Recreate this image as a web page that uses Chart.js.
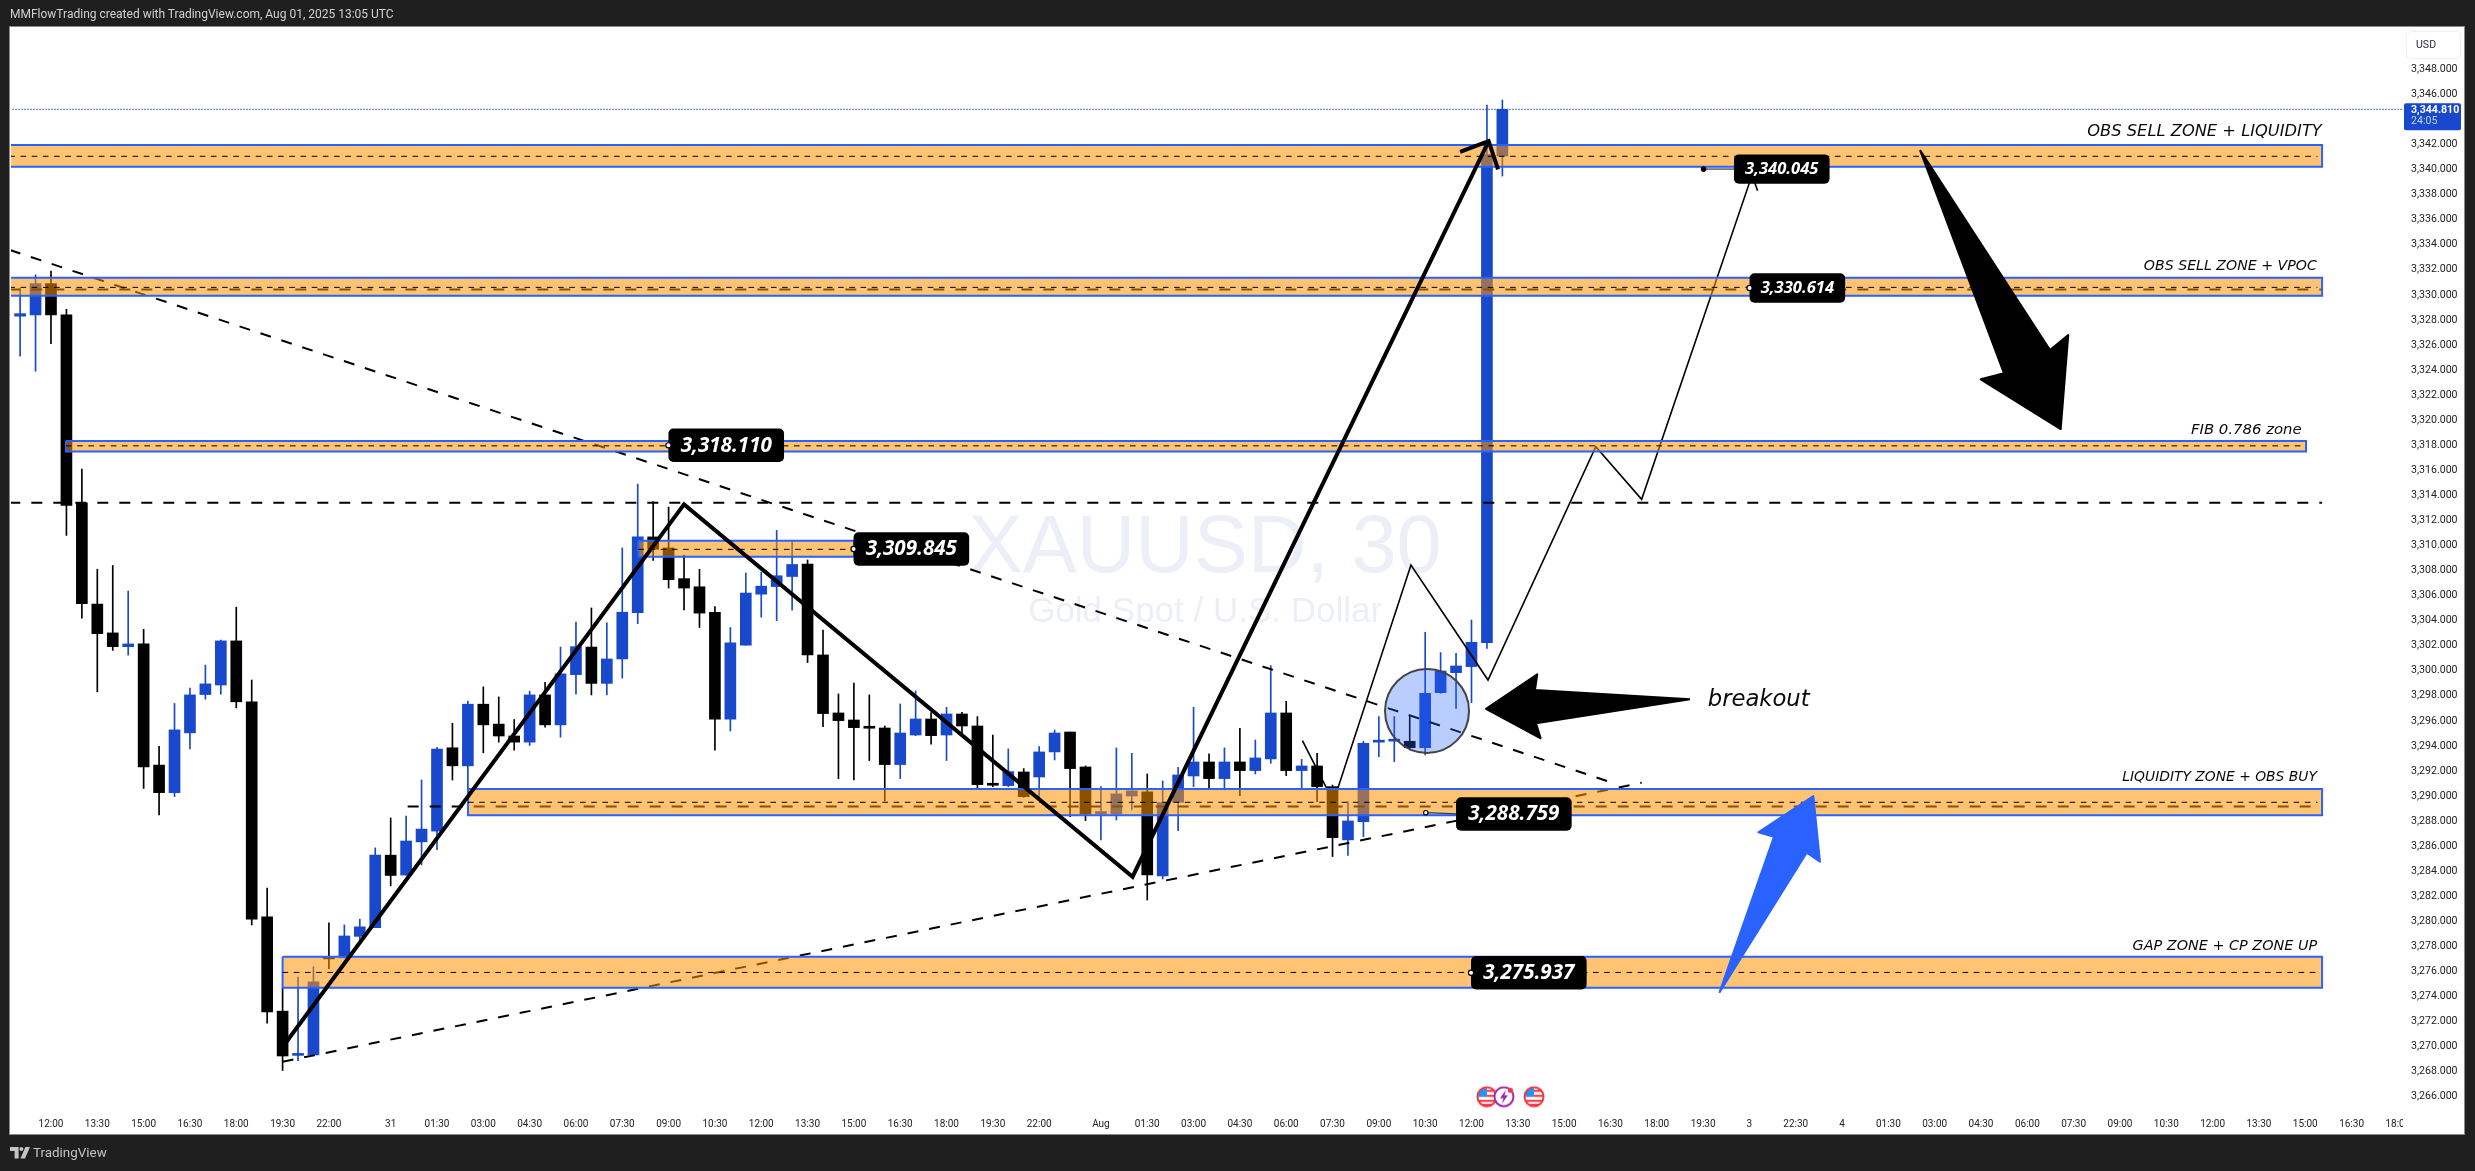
<!DOCTYPE html>
<html><head><meta charset="utf-8">
<style>
html,body{margin:0;padding:0;width:2475px;height:1171px;overflow:hidden;background:#1f1f1f}
#panel{position:absolute;left:10px;top:27px;width:2454px;height:1107px;background:#fff;outline:1px solid #8a8a8a}
#c{position:absolute;left:0;top:0}
#head{position:absolute;left:10px;top:7px;font:12px Roboto,sans-serif;color:#d2d2d2;white-space:nowrap;line-height:15px}
#foot{position:absolute;left:33px;top:1145px;font:13.4px Roboto,sans-serif;color:#c4c4c4;line-height:16px}
#logo{position:absolute;left:10px;top:1147px}
</style>
<script src="https://cdn.jsdelivr.net/npm/chart.js@4/dist/chart.umd.js"></script>
</head><body>
<div id="panel"></div>
<canvas id="c" width="2475" height="1171"></canvas>
<div id="head">MMFlowTrading created with TradingView.com, Aug 01, 2025 13:05 UTC</div>
<svg id="logo" width="20" height="12" viewBox="0 0 20 12"><path fill="#c4c4c4" d="M0 0h8.6v11.4H4.6V4H0z"/><circle cx="11.4" cy="2" r="2" fill="#c4c4c4"/><path fill="#c4c4c4" d="M15.4 0H20l-5 11.4h-4.6z"/></svg>
<div id="foot">TradingView</div>
<script>
const opens=[3328.3,3328.4,3330.9,3328.4,3313.4,3305.32,3303.02,3301.92,3302.14,3292.47,3290.27,3295.04,3298.1,3298.86,3302.38,3297.52,3280.36,3272.83,3269.3,3269.34,3277.05,3277.08,3278.8,3279.5,3285.28,3283.69,3286.34,3287.2,3293.85,3292.41,3297.33,3295.74,3294.79,3294.3,3298.07,3295.68,3299.69,3301.89,3298.99,3300.94,3304.64,3310.68,3309.8,3307.35,3306.7,3304.67,3296.14,3302.04,3306.11,3306.72,3307.52,3308.52,3301.26,3296.63,3296.07,3295.5,3295.43,3292.51,3294.87,3296.15,3294.87,3296.55,3295.59,3290.95,3290.83,3291.92,3291.52,3293.52,3295.11,3292.32,3288.57,3288.57,3290.0,3290.33,3283.62,3289.5,3291.6,3292.72,3291.39,3292.72,3292.03,3292.96,3296.63,3292.03,3292.4,3290.75,3286.5,3287.96,3294.3,3294.38,3294.37,3293.86,3298.25,3299.85,3300.33,3302.24,3341.08];
const highs=[3330.5,3331.6,3331.9,3328.85,3316.1,3308.1,3308.4,3306.36,3303.3,3293.97,3297.39,3298.62,3300.45,3302.44,3305.07,3299.26,3282.65,3274.7,3275.55,3276.38,3279.87,3279.71,3280.17,3285.86,3288.25,3288.4,3291.28,3293.88,3295.8,3297.58,3298.71,3297.91,3296.11,3298.37,3299.08,3301.89,3303.88,3305.01,3303.82,3309.8,3314.9,3313.5,3313.06,3309.24,3308.1,3305.13,3303.45,3307.8,3307.87,3311.2,3310.3,3308.84,3303.25,3298.15,3299.02,3298.07,3295.59,3297.35,3298.39,3296.66,3297.08,3296.68,3296.34,3294.87,3293.76,3292.19,3293.94,3295.27,3295.11,3292.4,3290.75,3293.84,3293.41,3291.76,3291.2,3292.29,3297.08,3293.36,3293.84,3295.41,3294.47,3300.41,3297.56,3292.93,3293.41,3290.88,3289.55,3294.37,3296.34,3296.34,3296.39,3303.07,3301.45,3301.39,3304.05,3345.15,3345.55];
const lows=[3325.1,3323.9,3326.1,3310.8,3304.2,3298.31,3301.62,3301.25,3290.6,3288.5,3289.96,3293.75,3297.73,3298.13,3297.03,3279.71,3271.88,3268.09,3268.88,3269.25,3276.23,3277.08,3278.5,3279.5,3282.83,3283.69,3284.5,3285.71,3291.28,3289.69,3293.45,3294.3,3293.66,3294.03,3295.5,3294.7,3298.13,3298.07,3298.07,3299.41,3303.76,3308.8,3306.6,3304.86,3303.45,3293.66,3295.19,3302.04,3304.28,3304.0,3304.83,3300.65,3295.54,3291.39,3291.28,3292.83,3289.61,3291.39,3294.82,3294.13,3292.83,3294.74,3290.62,3290.75,3290.75,3289.9,3289.95,3292.88,3288.36,3288.04,3286.5,3288.09,3288.89,3281.7,3283.38,3287.24,3290.75,3290.62,3290.49,3290.03,3291.76,3292.61,3291.63,3290.62,3289.55,3285.17,3285.25,3286.76,3293.14,3292.75,3293.68,3293.28,3298.2,3297.0,3297.45,3301.79,3339.48];
const closes=[3328.5,3330.9,3328.4,3313.2,3305.35,3302.96,3301.92,3302.14,3292.32,3290.27,3295.28,3298.07,3298.95,3302.38,3297.52,3280.17,3272.77,3269.25,3269.35,3275.16,3277.0,3278.83,3279.56,3285.28,3283.66,3286.41,3287.36,3293.75,3292.41,3297.33,3295.68,3294.79,3294.3,3298.07,3295.68,3299.75,3301.92,3298.99,3300.94,3304.67,3310.68,3309.7,3307.27,3306.6,3304.6,3296.14,3302.23,3306.2,3306.75,3307.58,3308.48,3301.26,3296.58,3296.02,3295.46,3295.41,3292.51,3295.03,3296.15,3294.82,3296.55,3295.59,3290.91,3290.86,3291.95,3289.95,3293.52,3295.03,3292.19,3288.57,3288.76,3290.17,3290.41,3283.7,3289.47,3291.68,3292.72,3291.39,3292.72,3292.03,3293.04,3296.63,3292.03,3292.4,3290.75,3286.68,3288.01,3294.21,3294.35,3294.43,3293.86,3298.2,3299.98,3300.38,3302.27,3341.2,3344.81];

const xTickIndex=[2,5,8,11,14,17,20,24,27,30,33,36,39,42,45,48,51,54,57,60,63,66,70,73,76,79,82,85,88,91,94,97,100,103,106,109,112,115,118,121,124,127,130,133,136,139,142,145,148,151,154];
const xTickLabels=['12:00','13:30','15:00','16:30','18:00','19:30','22:00','31','01:30','03:00','04:30','06:00','07:30','09:00','10:30','12:00','13:30','15:00','16:30','18:00','19:30','22:00','Aug','01:30','03:00','04:30','06:00','07:30','09:00','10:30','12:00','13:30','15:00','16:30','18:00','19:30','3','22:30','4','01:30','03:00','04:30','06:00','07:30','09:00','10:30','12:00','13:30','15:00','16:30','18:00'];
const priceTicks=[3348,3346,3344,3342,3340,3338,3336,3334,3332,3330,3328,3326,3324,3322,3320,3318,3316,3314,3312,3310,3308,3306,3304,3302,3300,3298,3296,3294,3292,3290,3288,3286,3284,3282,3280,3278,3276,3274,3272,3270,3268,3266];
const hiddenPriceTick=3344;

const zoneStart=[-0.7,-0.7,2.97,40.04,29.01,17];
const zoneEnd=[149.09,149.09,148.05,54.01,149.09,149.09];
const zoneTop=[3341.96,3331.37,3318.34,3310.38,3290.57,3277.18];
const zoneBottom=[3340.23,3329.93,3317.49,3309.1,3288.46,3274.69];
const zoneMid=[3341.06,3330.6,3317.95,3309.69,3289.5,3275.92];

const heavyDashStart=[-0.7,-0.7,25.1];
const heavyDashEnd=[149.09,149.09,149.09];
const heavyDashPrice=[3313.4,3330.43,3289.17];

const trendDown=[[-0.66,3333.58],[102.78,3291.2]];
const trendUp=[[17,3268.79],[105.02,3291.06]];
const thickPath=[[17,3269.97],[43,3313.28],[72.05,3283.56],[95.11,3342.28]];
const thickHead=[[93.26,3341.42],[95.11,3342.28],[95.72,3340.02]];
const thinPath=[[83.05,3294.42],[85.06,3289.55],[90.08,3308.44],[95.07,3299.26],[102.05,3317.88],[105.02,3313.68],[112.17,3339.56],[112.53,3338.31]];
const arrowSell=[[123.05,3341.56],[131.47,3325.6],[132.65,3326.79],[132.16,3319.29],[126.98,3323.26],[128.49,3323.74],[123.05,3341.56]];
const arrowBreak=[[108.15,3297.72],[98.18,3295.8],[98.48,3294.61],[94.94,3296.95],[98.26,3299.72],[98.11,3298.46],[108.15,3297.72]];
const arrowBuy=[[110.05,3274.3],[115.71,3285.48],[116.57,3284.76],[116.14,3290.0],[112.58,3287.11],[113.59,3286.75],[110.05,3274.3]];
const circleAt=[91.12,3296.79];
const lastPrice=3344.81;
const newsIndex=[95,96.1,98.05];
const newsPrice=3266;

const tagText=['3,318.110','3,309.845','3,288.759','3,275.937','3,340.045','3,330.614'];
const tagLeft=[41.99,53.98,93,93.97,111,112.01];
const tagPrice=[3317.99,3309.72,3288.57,3275.9,3340.04,3330.55];
const tagBig=[1,1,1,1,0,0];
const leaderIndex=[null,null,91.04,null,109.03,null];
const leaderPrice=[null,null,3288.67,null,3340.04,null];

const noteText=['OBS SELL ZONE + LIQUIDITY','OBS SELL ZONE + VPOC','FIB 0.786 zone','LIQUIDITY ZONE + OBS BUY','GAP ZONE + CP ZONE UP','breakout'];
const noteRight=[149.07,148.75,147.77,148.75,148.77,115.9];
const notePrice=[3342.68,3331.98,3318.89,3291.2,3277.71,3297.2];
const noteSize=[16.3,14.16,14.9,13.85,14.4,22.7];

const BLUE='#1848cc',ZB='#2962ff',ZF='rgba(255,147,0,0.55)';
const colors=closes.map((c,i)=>c>=opens[i]?BLUE:'#000');
const bodies=closes.map((c,i)=>({x:i,y:[opens[i],c]}));
const wicks=closes.map((c,i)=>({x:i,y:[lows[i],highs[i]]}));
const pts=a=>a.map(p=>({x:p[0],y:p[1]}));
const line=(data,o)=>Object.assign({type:'line',data:pts(data),pointRadius:0,tension:0,fill:false,borderColor:'#000',borderWidth:1,borderJoinStyle:'miter',borderCapStyle:'butt',clip:0},o);

function flag(){const c=document.createElement('canvas');c.width=c.height=22;const g=c.getContext('2d');
  g.beginPath();g.arc(11,11,9.5,0,7);g.fillStyle='#fff';g.fill();g.save();g.clip();
  g.fillStyle='#f44';[4,9,14,18].forEach(y=>g.fillRect(0,y,22,2.2));g.fillStyle='#2196f3';g.fillRect(0,0,11,11);g.restore();
  g.beginPath();g.arc(11,11,9.5,0,7);g.lineWidth=2;g.strokeStyle='#f23645';g.stroke();return c;}
function bolt(){const c=document.createElement('canvas');c.width=c.height=22;const g=c.getContext('2d');
  g.beginPath();g.arc(11,11,9.5,0,7);g.fillStyle='#fff';g.fill();g.lineWidth=2;g.strokeStyle='#9c27b0';g.stroke();
  g.fillStyle='#9c27b0';g.beginPath();g.moveTo(13,4);g.lineTo(7,12.5);g.lineTo(10.5,12.5);g.lineTo(9,18);g.lineTo(15,9.5);g.lineTo(11.5,9.5);g.closePath();g.fill();
  g.fillStyle='#f23645';g.beginPath();g.arc(17.5,4.5,2.6,0,7);g.fill();return c;}

const datasets=[];
datasets.push({type:'bar',data:wicks,backgroundColor:colors,barThickness:1,grouped:false,order:100,parsing:{xAxisKey:'x',yAxisKey:'y'}});
datasets.push({type:'bar',data:bodies,backgroundColor:colors,barThickness:11,minBarLength:2,grouped:false,order:99,parsing:{xAxisKey:'x',yAxisKey:'y'}});
heavyDashPrice.forEach((p,i)=>datasets.push(line([[heavyDashStart[i],p],[heavyDashEnd[i],p]],{borderWidth:2,borderDash:[11,11],order:90})));
datasets.push(line(trendDown,{borderWidth:2,borderDash:[11,11],order:89}));
datasets.push(line(trendUp,{borderWidth:2,borderDash:[11,11],order:89}));
datasets.push(line(thinPath,{borderWidth:1.6,order:88}));
datasets.push(line([[-0.7,lastPrice],[154.5,lastPrice]],{borderColor:BLUE,borderWidth:1,borderDash:[1.5,1.5],order:87}));
zoneTop.forEach((t,i)=>{const b=zoneBottom[i],a=zoneStart[i],e=zoneEnd[i];
  datasets.push(line([[a,t],[e,t],[e,b],[a,b],[a,t]],{fill:'shape',backgroundColor:ZF,borderColor:ZB,borderWidth:2,order:80}));
  datasets.push(line([[a,zoneMid[i]],[e-0.3,zoneMid[i]]],{borderDash:[5.6,5.6],order:70}));
});
datasets.push(line(thickPath,{borderWidth:4,order:60}));
datasets.push(line(thickHead,{borderWidth:4,order:60}));
[[arrowSell,'#000'],[arrowBreak,'#000'],[arrowBuy,ZB]].forEach(([a,c])=>datasets.push(line(a,{fill:'shape',backgroundColor:c,borderColor:c,borderWidth:2,borderJoinStyle:'round',order:50})));
datasets.push({type:'line',data:[{x:circleAt[0],y:circleAt[1]}],showLine:false,pointRadius:42,pointBackgroundColor:'rgba(41,98,255,0.32)',pointBorderColor:'#444',pointBorderWidth:2,clip:false,order:40});
datasets.push({type:'line',data:newsIndex.map(x=>({x,y:newsPrice})),showLine:false,pointStyle:[flag(),bolt(),flag()],order:39,clip:false});
leaderIndex.forEach((x,i)=>{if(x!==null)datasets.push(line([[x,leaderPrice[i]],[tagLeft[i],tagPrice[i]]],{borderWidth:1.2,borderColor:i==2?'#1c3a8c':'#333',order:45}));});

const annot={id:'annot',
 beforeDatasetsDraw(ch){const g=ch.ctx,X=ch.scales.x,Y=ch.scales.y;g.save();g.fillStyle='#eceff8';g.textAlign='center';g.textBaseline='alphabetic';
  g.font='81px "Liberation Sans"';g.fillText('XAUUSD, 30',X.getPixelForValue(76.75),Y.getPixelForValue(3307.9));
  g.font='35px "Liberation Sans"';g.fillText('Gold Spot / U.S. Dollar',X.getPixelForValue(76.75),Y.getPixelForValue(3303.91));g.restore();},
 afterDatasetsDraw(ch){const g=ch.ctx,X=ch.scales.x,Y=ch.scales.y;g.save();
  tagText.forEach((t,i)=>{const big=tagBig[i],w=big?115.6:95.6,h=big?33.5:29.4,l=X.getPixelForValue(tagLeft[i]),cy=Y.getPixelForValue(tagPrice[i]);
    g.fillStyle='#000';g.beginPath();g.roundRect(l,cy-h/2,w,h,5);g.fill();
    g.fillStyle='#fff';g.textAlign='center';g.textBaseline='middle';g.font='italic 700 '+(big?20.6:16.6)+'px "Open Sans"';g.fillText(t,l+w/2,cy+0.5);
    if(leaderIndex[i]===null){g.beginPath();g.arc(l,cy,2.6,0,7);g.fillStyle='#fff';g.fill();g.strokeStyle='#000';g.lineWidth=1.2;g.stroke();}
    else{g.beginPath();g.arc(X.getPixelForValue(leaderIndex[i]),Y.getPixelForValue(leaderPrice[i]),2.2,0,7);g.fillStyle=i==2?'#fff':'#000';g.fill();g.strokeStyle='#000';g.lineWidth=1.2;g.stroke();}
  });
  g.fillStyle='#0a0a0a';g.textAlign='right';g.textBaseline='alphabetic';
  noteText.forEach((t,i)=>{g.font='italic '+noteSize[i]+'px "DejaVu Sans"';g.fillText(t,X.getPixelForValue(noteRight[i]),Y.getPixelForValue(notePrice[i]));});
  g.restore();},
 afterDraw(ch){const g=ch.ctx,A=ch.chartArea,Y=ch.scales.y;g.save();
  g.fillStyle='#fff';g.fillRect(A.right,A.bottom+2,60,22);
  const by=Y.getPixelForValue(lastPrice);
  g.fillStyle=BLUE;g.beginPath();g.roundRect(A.right+1,by-6,57,27,2);g.fill();
  g.textAlign='left';g.textBaseline='middle';g.fillStyle='#fff';g.font='700 10.6px Roboto';
  g.fillText(lastPrice.toLocaleString('en-US',{minimumFractionDigits:3}),A.right+8,by+1);
  g.fillStyle='#c6d2f4';g.font='10.6px Roboto';g.fillText('24:05',A.right+8,by+12.5);
  g.fillStyle='#fff';g.strokeStyle='#efefef';g.lineWidth=1;g.beginPath();g.roundRect(A.right+3.5,31.5,54,27,4);g.fill();g.stroke();
  g.fillStyle='#2a2e39';g.font='10.6px Roboto';g.fillText('USD',A.right+13,45);
  g.restore();}
};

new Chart(document.getElementById('c'),{type:'bar',data:{datasets},plugins:[annot],options:{
  responsive:false,animation:false,events:[],devicePixelRatio:1,
  layout:{autoPadding:false,padding:{left:11,top:28,right:0,bottom:0}},
  plugins:{legend:{display:false},title:{display:false},tooltip:{enabled:false}},
  elements:{point:{radius:10.5}},
  scales:{
    x:{type:'linear',position:'bottom',offset:false,min:-0.59,max:154.33,grid:{display:false,drawTicks:false},border:{display:false},
      afterBuildTicks(s){s.ticks=xTickIndex.map(v=>({value:v}));},
      afterFit(s){s.height=61;},
      ticks:{autoSkip:false,maxRotation:0,minRotation:0,padding:8,color:'#222',font:{family:'Roboto',size:10},callback:v=>xTickLabels[xTickIndex.indexOf(v)]}},
    y:{type:'linear',position:'right',min:3264.94,max:3351.3,grid:{display:false,drawTicks:false},border:{display:false},
      afterBuildTicks(s){s.ticks=priceTicks.map(v=>({value:v}));},
      afterFit(s){s.width=72;},
      ticks:{autoSkip:false,padding:8,color:'#222',font:{family:'Roboto',size:10.6},callback:v=>v===hiddenPriceTick?'':v.toLocaleString('en-US',{minimumFractionDigits:3})}}
  }}});
</script>
</body></html>
